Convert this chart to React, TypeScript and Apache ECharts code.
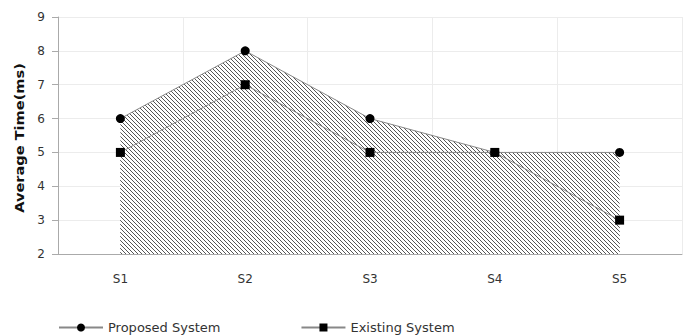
import React, { useEffect, useRef } from "react";
import * as echarts from "echarts";

const categories = ["S1", "S2", "S3", "S4", "S5"];
const proposed = [6, 8, 6, 5, 5];
const existing = [5, 7, 5, 5, 3];
const yTicks = { min: 2, max: 9, interval: 1 };
const yAxisTitle = "Average Time(ms)";

function makeHatch() {
  const c = document.createElement("canvas");
  c.width = 4;
  c.height = 4;
  const ctx = c.getContext("2d")!;
  ctx.fillStyle = "#ffffff";
  ctx.fillRect(0, 0, 4, 4);
  ctx.fillStyle = "#555555";
  for (let i = 0; i < 4; i++) ctx.fillRect(i, i, 1, 1);
  return c;
}

export default function App() {
  const ref = useRef<HTMLDivElement>(null);
  useEffect(() => {
    document.body.style.margin = "0";
    const chart = echarts.init(ref.current!, null, { renderer: "svg" });
    const hatch = makeHatch();
    const pattern: any = { image: hatch, repeat: "repeat", imageWidth: 4, imageHeight: 4 };
    const font = "DejaVu Sans";
    chart.setOption({
      animation: false,
      grid: { left: 58, right: 4, top: 17, bottom: 82 },
      graphic: [
        {
          type: "text",
          x: 19,
          y: 138,
          rotation: Math.PI / 2,
          scaleX: 1.12,
          style: {
            text: yAxisTitle,
            fontFamily: font,
            fontSize: 13,
            fontWeight: "bold",
            fill: "#111",
            align: "center",
            verticalAlign: "middle",
          },
        },
      ],
      legend: {
        left: 53,
        top: 316,
        itemWidth: 44,
        itemHeight: 10,
        itemGap: 80,
        textStyle: { fontFamily: font, fontSize: 13, color: "#333" },
        data: ["Proposed System", "Existing System"],
      },
      xAxis: {
        type: "category",
        data: categories,
        boundaryGap: true,
        axisLine: { lineStyle: { color: "#aaa" } },
        axisTick: { alignWithLabel: true, length: 5, lineStyle: { color: "#aaa" } },
        axisLabel: { fontFamily: font, fontSize: 12, color: "#333", margin: 19 },
        splitLine: { show: true, lineStyle: { color: "#ececec" } },
      },
      yAxis: {
        type: "value",
        min: yTicks.min,
        max: yTicks.max,
        interval: yTicks.interval,
        axisLine: { show: true, lineStyle: { color: "#aaa" } },
        axisTick: { show: true, length: 6, lineStyle: { color: "#aaa" } },
        axisLabel: { fontFamily: font, fontSize: 12, color: "#333", margin: 13 },
        splitLine: { show: true, lineStyle: { color: "#ececec" } },
      },
      series: [
        {
          name: "Proposed System",
          type: "line",
          data: proposed,
          symbol: "circle",
          symbolSize: 9,
          itemStyle: { color: "#000" },
          lineStyle: { color: "#888", width: 1 },
          areaStyle: { color: pattern, opacity: 1, origin: "start" },
        },
        {
          name: "Existing System",
          type: "line",
          data: existing,
          symbol: "rect",
          symbolSize: 9,
          itemStyle: { color: "#000" },
          lineStyle: { color: "#888", width: 1 },
          areaStyle: { color: pattern, opacity: 1, origin: "start" },
        },
      ],
    });
    return () => chart.dispose();
  }, []);
  return <div ref={ref} style={{ width: 686, height: 336 }} />;
}
